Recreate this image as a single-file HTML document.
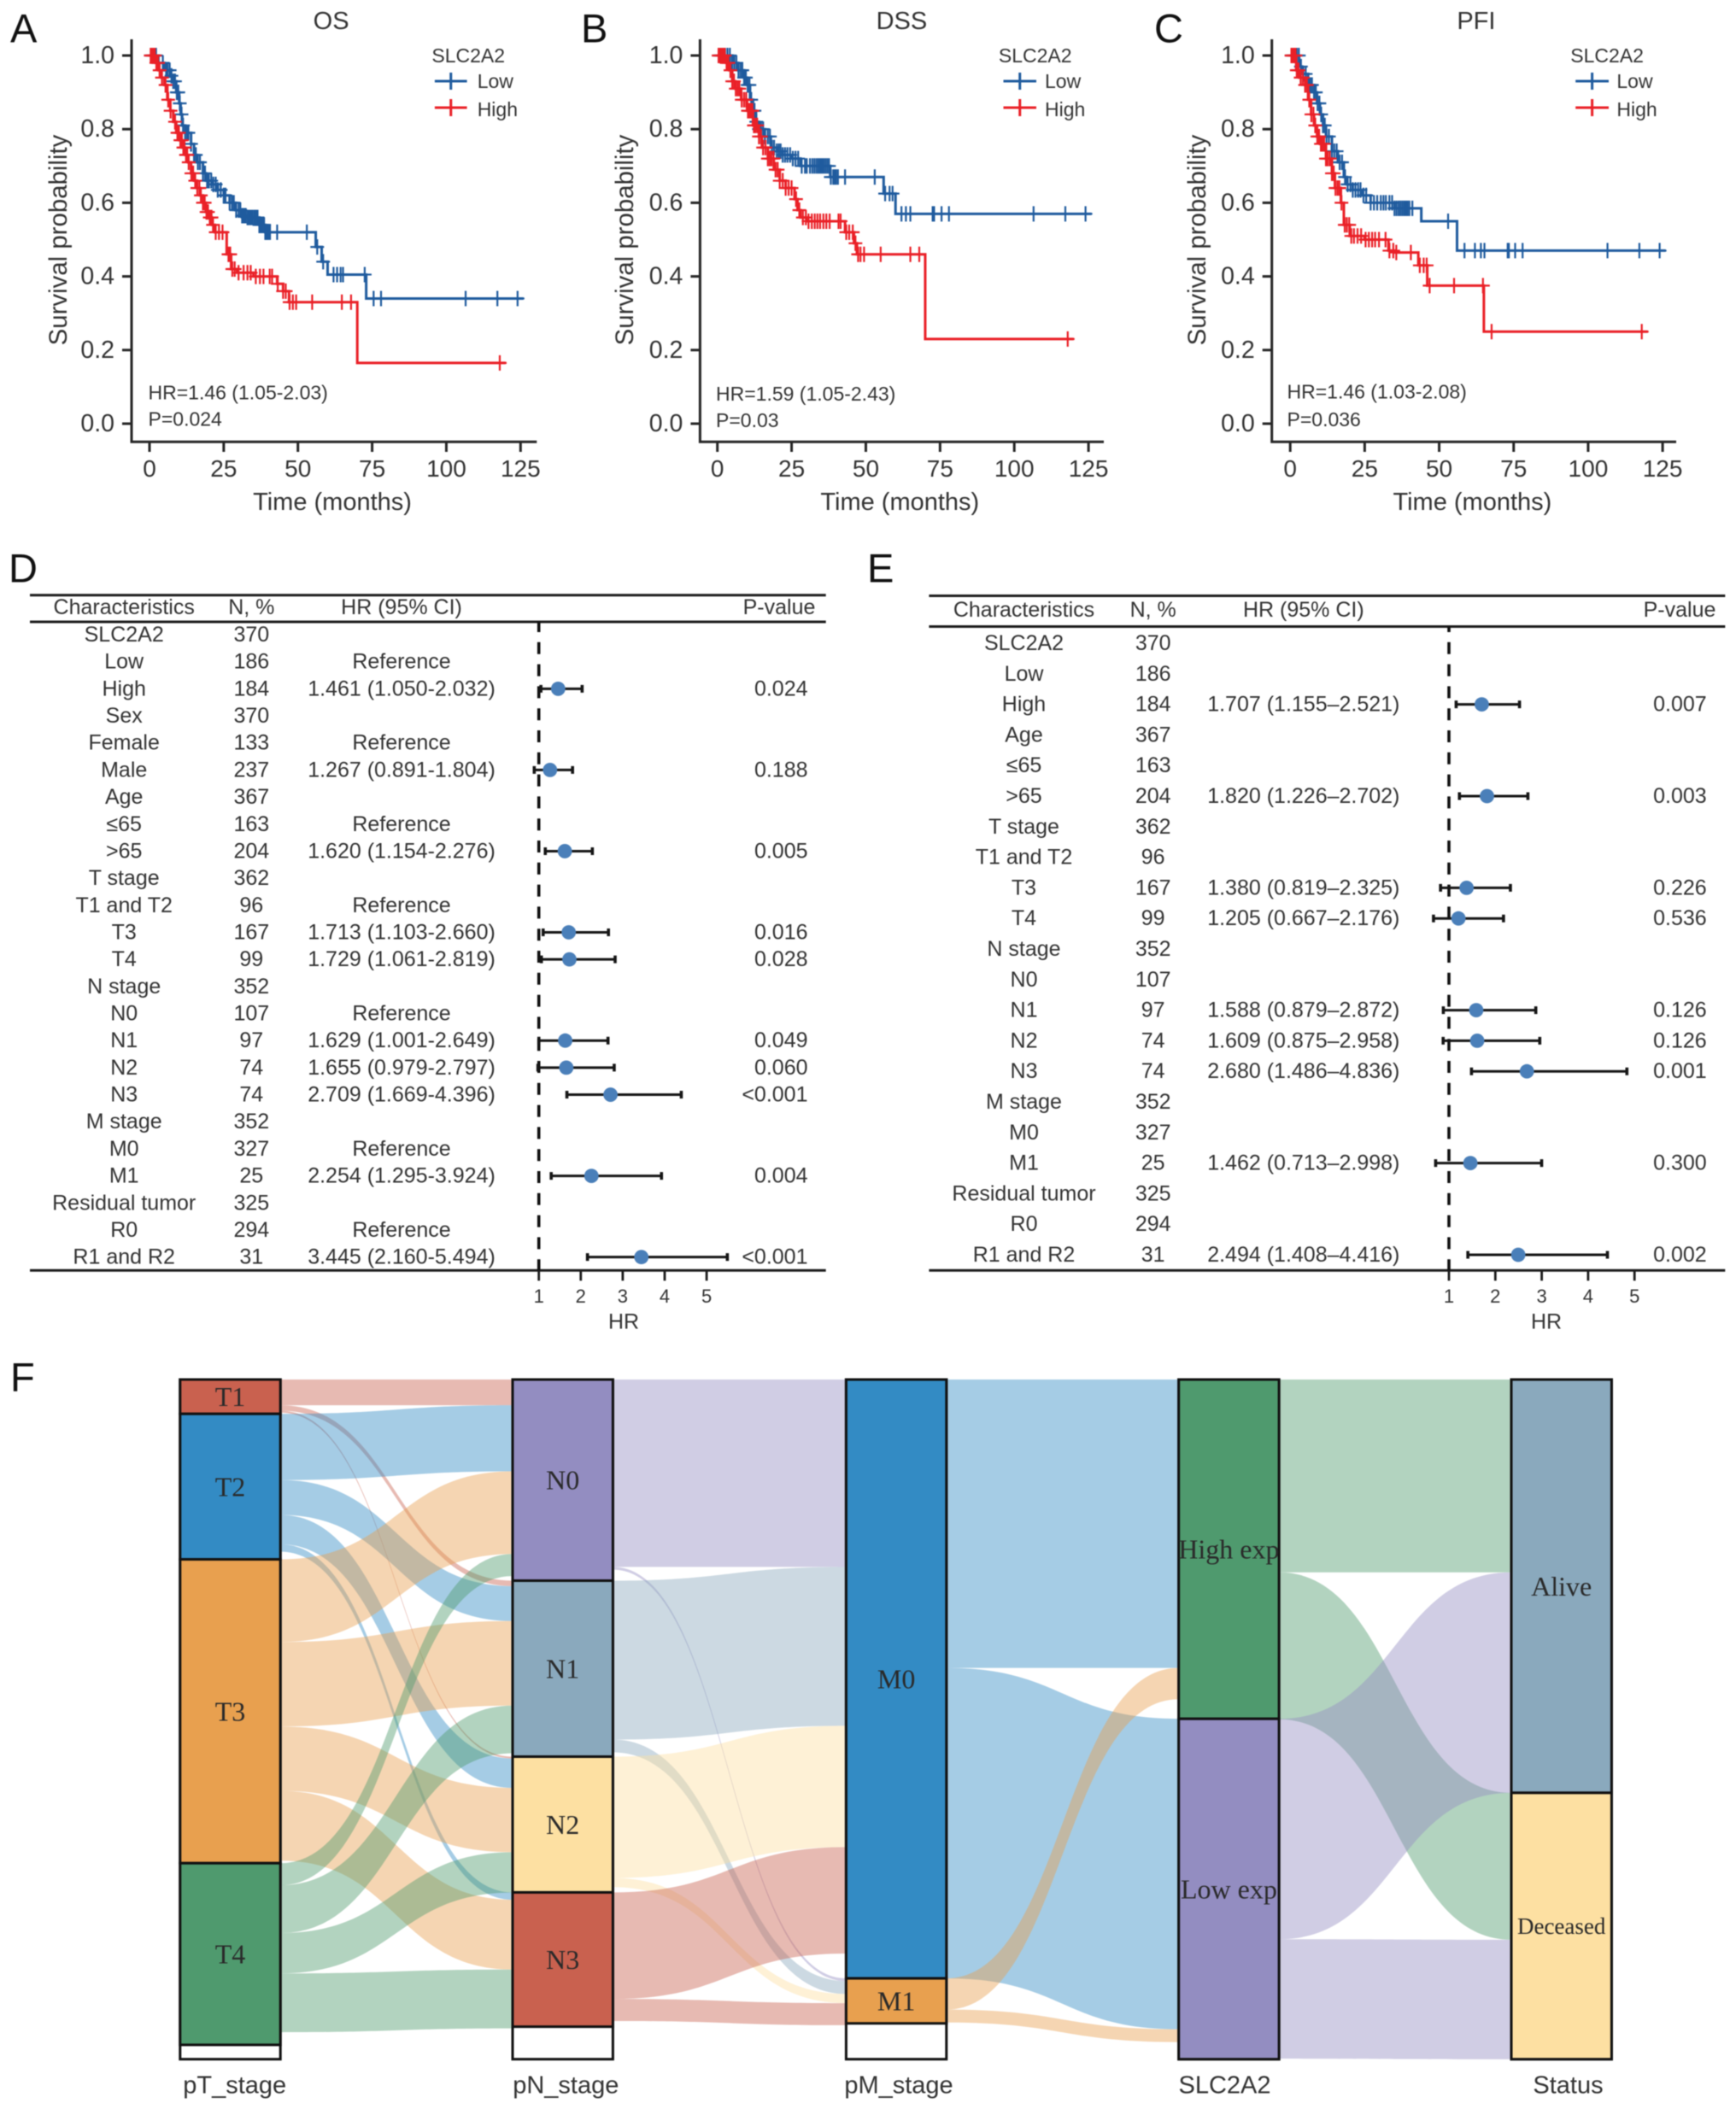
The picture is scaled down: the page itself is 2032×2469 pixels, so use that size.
<!DOCTYPE html>
<html lang="en">
<head>
<meta charset="utf-8">
<title>SLC2A2 survival, Cox regression and Sankey figure</title>
<style>
html,body{margin:0;padding:0;background:#fff;}
svg{display:block;filter:blur(0.55px);}
text{font-family:"Liberation Sans",sans-serif;fill:#333;dominant-baseline:central;}
.serif{font-family:"Liberation Serif",serif;fill:#2a2a2a;}
.letter{font-size:47px;fill:#111;}
.axis-title{font-size:29px;text-anchor:middle;}
.legend{font-size:23px;}
</style>
</head>
<body>
<svg id="fig" xmlns="http://www.w3.org/2000/svg" width="2032" height="2469" viewBox="0 0 2032 2469">
  <rect x="0" y="0" width="2032" height="2469" fill="#fff"/>

  <text class="letter" x="12" y="33">A</text>
  <text class="letter" x="680" y="33">B</text>
  <text class="letter" x="1351" y="33">C</text>
  <text class="letter" x="10" y="665">D</text>
  <text class="letter" x="1015" y="665">E</text>
  <text class="letter" x="12" y="1612">F</text>

  <g id="km-a">
    <text class="axis-title" x="387.6" y="25">OS</text>
    <text class="axis-title" style="font-size:29.4px" transform="translate(68.4,281) rotate(-90)">Survival probability</text>
    <text class="axis-title" x="389" y="588">Time (months)</text>
    <text class="legend" x="505.4" y="65">SLC2A2</text>
    <text class="legend" x="558.7" y="95">Low</text>
    <text class="legend" x="558.7" y="128">High</text>
    <text class="legend" x="173.5" y="459.5">HR=1.46 (1.05-2.03)</text>
    <text class="legend" x="173.5" y="490.7">P=0.024</text>
  </g>
  <g id="km-b">
    <text class="axis-title" x="1055.4" y="25">DSS</text>
    <text class="axis-title" style="font-size:29.4px" transform="translate(731.5,281) rotate(-90)">Survival probability</text>
    <text class="axis-title" x="1053.3" y="588">Time (months)</text>
    <text class="legend" x="1168.9" y="65">SLC2A2</text>
    <text class="legend" x="1223" y="95">Low</text>
    <text class="legend" x="1223" y="128">High</text>
    <text class="legend" x="838" y="461">HR=1.59 (1.05-2.43)</text>
    <text class="legend" x="838" y="492">P=0.03</text>
  </g>
  <g id="km-c">
    <text class="axis-title" x="1727.9" y="25">PFI</text>
    <text class="axis-title" style="font-size:29.4px" transform="translate(1401.5,281) rotate(-90)">Survival probability</text>
    <text class="axis-title" x="1723.4" y="588">Time (months)</text>
    <text class="legend" x="1838.3" y="65">SLC2A2</text>
    <text class="legend" x="1892.4" y="95">Low</text>
    <text class="legend" x="1892.4" y="128">High</text>
    <text class="legend" x="1506.5" y="458.5">HR=1.46 (1.03-2.08)</text>
    <text class="legend" x="1506.5" y="491">P=0.036</text>
  </g>

  <g id="forest-d"></g>
  <g id="forest-e"></g>

  <g id="sankey"></g>
</svg>

<script>
/* ---------- Kaplan-Meier data ---------- */
const survivalTicks = [0, 0.2, 0.4, 0.6, 0.8, 1.0];
const survivalTickLabels = ['0.0', '0.2', '0.4', '0.6', '0.8', '1.0'];
const timeTicks = [0, 25, 50, 75, 100, 125];

const osLowTimes = [0,3,5,7,8,9,10,10.5,11,12,14,15,16,18,19,21,23,25,27,29,31,33,37,39,56,58,60,73,126];
const osLowSurv  = [1,.98,.96,.945,.93,.90,.87,.84,.81,.79,.76,.73,.71,.68,.66,.65,.635,.62,.60,.58,.565,.56,.54,.52,.48,.44,.405,.34,.34];
const osLowCensor = [.5,1,1.7,2.2,3,4.5,5.6,6.1,6.8,7.4,8,8.6,9.2,9.7,10.2,10.8,11.3,12,12.6,13.1,14,15,15.6,16.3,17,18,18.7,19.4,20,20.8,21.5,22.3,23,24,25,25.6,27,27.8,28.4,29.2,30,30.6,31.2,31.8,32.4,33,33.5,34.1,34.7,35.3,35.8,36.4,37,37.5,38,38.6,39,39.5,40,40.6,43,53,56.5,58.5,62,63.2,64.4,65.2,72.5,75.5,78,106.5,117.2,124];
const osHighTimes = [0,2,3,4,5,6,7,8,9,10,11,12,13,14,15,16,17,18,19,20,21,22,26,27.5,29.5,35,43,45,47,70,120];
const osHighSurv  = [1,.98,.96,.94,.92,.88,.85,.82,.79,.77,.75,.73,.71,.68,.66,.64,.62,.60,.575,.56,.54,.52,.46,.42,.41,.40,.38,.36,.33,.165,.165];
const osHighCensor = [.4,.9,1.3,1.8,2.3,2.9,3.4,4.2,5.4,6.3,7.1,8.6,9.4,9.9,10.4,10.9,11.4,11.8,12.3,12.7,13.2,14.1,14.7,15.4,16.1,16.8,17.3,18,18.6,19.2,19.7,20.3,20.9,21.4,22.3,23.4,24.6,26.6,27.2,27.9,28.7,30,31.7,33,34.1,35.8,37.2,38.4,40.5,41.3,43.2,45,45.9,47.2,48.3,49.4,54.8,64.8,67.9,118];

const dssLowTimes = [0,5,7,9,10,11,12,13,14,16,18,20,22,25,28,38,56,60,126];
const dssLowSurv  = [1,.98,.96,.94,.92,.88,.85,.82,.80,.78,.75,.74,.73,.72,.70,.67,.625,.57,.57];
const dssLowCensor = [.6,1.2,1.9,2.6,3.4,4.2,5,5.7,6.4,7.1,7.8,8.4,9,9.6,10.2,10.8,11.4,12,12.5,13.1,14,14.7,15.4,16,17,17.7,18.4,19.1,20,20.7,21.3,22,22.8,23.6,24.5,25.4,26.3,27.2,28.4,29.5,30.1,31.2,32,32.7,33.4,34,34.6,35.2,35.8,36.4,37,37.6,38.2,39,39.5,40,40.6,43,53,56.5,58,59,62,63.5,65,72.5,73,75.5,78,106.5,117.2,124];
const dssHighTimes = [0,3,4,5,6,8,10,12,14,15,17,19,21,23,26,27,28,30,43,46,47,70,120];
const dssHighSurv  = [1,.98,.96,.93,.91,.88,.85,.81,.78,.75,.72,.69,.66,.64,.61,.58,.56,.55,.52,.49,.46,.23,.23];
const dssHighCensor = [.4,1,1.5,2,2.5,3.1,3.7,4.4,5,5.6,6.2,6.8,7.4,8.2,9,9.7,10.3,10.8,11.3,11.8,12.3,12.8,13.4,14,14.7,15.4,16.2,17,17.6,18.2,18.9,19.6,20.3,21,22,23,24,25,26.5,27.6,28.8,29.8,30.7,31.8,32.8,33.7,34.6,35.7,36.7,37.8,40.8,41.5,43.4,44.4,45.6,46.5,47.4,48.2,49.4,55,65,68,118];

const pfiLowTimes = [0,3,4,6,8,9,10,11,12,14,16,18,19,21,24,27,35,44,56,126];
const pfiLowSurv  = [1,.97,.95,.92,.90,.87,.84,.81,.78,.74,.71,.67,.65,.635,.62,.60,.585,.55,.47,.47];
const pfiLowCensor = [.5,1,1.6,2.2,2.9,3.6,4.4,5.2,6,6.7,7.3,8,8.6,9.2,9.8,10.4,11,11.6,12.2,13,14,14.8,15.6,16.6,17.4,18.4,19.3,20.2,21,21.9,22.8,23.6,24.6,25.5,27,28.1,29.2,30.4,31.3,32.1,33.3,34.2,35,35.7,36.4,37,37.6,38.2,38.8,39.4,40,41,53,58.5,62,64,65.2,73,73.4,75.5,78,106.5,117.2,124];
const pfiHighTimes = [0,2,3,5,6,7,8,9,10,12,14,15,17,18,20,25,33,35,43,46,65,120];
const pfiHighSurv  = [1,.96,.94,.92,.88,.84,.81,.78,.76,.72,.68,.64,.60,.54,.51,.50,.47,.465,.43,.375,.25,.25];
const pfiHighCensor = [.4,.8,1.3,1.8,2.2,2.8,3.5,4.2,5,5.6,6.4,7.1,7.8,8.4,9.1,9.7,10.3,10.8,11.4,12,12.6,13.3,14,14.6,15.2,15.9,16.5,17.2,18.3,19,19.8,20.5,21.4,22.6,23.8,25.3,26.4,27.5,28.5,29.8,32,33.3,34.6,35.6,40.5,43.5,44.8,45.8,46.8,55,64.7,67.6,118];

/* ---------- Forest plot data ---------- */
const dLabels = ['SLC2A2','Low','High','Sex','Female','Male','Age','≤65','>65','T stage','T1 and T2','T3','T4','N stage','N0','N1','N2','N3','M stage','M0','M1','Residual tumor','R0','R1 and R2'];
const dCounts = ['370','186','184','370','133','237','367','163','204','362','96','167','99','352','107','97','74','74','352','327','25','325','294','31'];
const dHrText = ['','Reference','1.461 (1.050-2.032)','','Reference','1.267 (0.891-1.804)','','Reference','1.620 (1.154-2.276)','','Reference','1.713 (1.103-2.660)','1.729 (1.061-2.819)','','Reference','1.629 (1.001-2.649)','1.655 (0.979-2.797)','2.709 (1.669-4.396)','','Reference','2.254 (1.295-3.924)','','Reference','3.445 (2.160-5.494)'];
const dHr = [null,null,1.461,null,null,1.267,null,null,1.620,null,null,1.713,1.729,null,null,1.629,1.655,2.709,null,null,2.254,null,null,3.445];
const dLow = [null,null,1.050,null,null,0.891,null,null,1.154,null,null,1.103,1.061,null,null,1.001,0.979,1.669,null,null,1.295,null,null,2.160];
const dHigh = [null,null,2.032,null,null,1.804,null,null,2.276,null,null,2.660,2.819,null,null,2.649,2.797,4.396,null,null,3.924,null,null,5.494];
const dPValues = ['','','0.024','','','0.188','','','0.005','','','0.016','0.028','','','0.049','0.060','<0.001','','','0.004','','','<0.001'];

const eLabels = ['SLC2A2','Low','High','Age','≤65','>65','T stage','T1 and T2','T3','T4','N stage','N0','N1','N2','N3','M stage','M0','M1','Residual tumor','R0','R1 and R2'];
const eCounts = ['370','186','184','367','163','204','362','96','167','99','352','107','97','74','74','352','327','25','325','294','31'];
const eHrText = ['','','1.707 (1.155–2.521)','','','1.820 (1.226–2.702)','','','1.380 (0.819–2.325)','1.205 (0.667–2.176)','','','1.588 (0.879–2.872)','1.609 (0.875–2.958)','2.680 (1.486–4.836)','','','1.462 (0.713–2.998)','','','2.494 (1.408–4.416)'];
const eHr = [null,null,1.707,null,null,1.820,null,null,1.380,1.205,null,null,1.588,1.609,2.680,null,null,1.462,null,null,2.494];
const eLow = [null,null,1.155,null,null,1.226,null,null,0.819,0.667,null,null,0.879,0.875,1.486,null,null,0.713,null,null,1.408];
const eHigh = [null,null,2.521,null,null,2.702,null,null,2.325,2.176,null,null,2.872,2.958,4.836,null,null,2.998,null,null,4.416];
const ePValues = ['','','0.007','','','0.003','','','0.226','0.536','','','0.126','0.126','0.001','','','0.300','','','0.002'];
const hrTicks = [1, 2, 3, 4, 5];

/* ---------- Sankey data (case counts) ---------- */
const sankeyTotal = 370;
const tLabels = ['T1','T2','T3','T4'];
const tCounts = [18.7,79.2,165.4,98.9];
const nLabels = ['N0','N1','N2','N3'];
const nCounts = [109.5,95.8,73.9,73.1];
const mLabels = ['M0','M1'];
const mCounts = [326,24.5];
const slcLabels = ['High exp','Low exp'];
const slcCounts = [184.7,185.3];
const statusLabels = ['Alive','Deceased'];
const statusCounts = [225,145];
const tToN = [[14,3,1,0],[36,19,16,4],[45,46,35,38],[12,26,22,32]];
const nToM = [[102,1.5],[86.5,7],[66,5],[58,12]];
const mToSlc = [[157,169],[17,7]];
const slcToStatus = [[105,80],[120,65]];
const stageTitles = ['pT_stage','pN_stage','pM_stage','SLC2A2','Status'];

/* ---------- helpers ---------- */
const NS = 'http://www.w3.org/2000/svg';
function mk(tag, parent, props) {
  const el = document.createElementNS(NS, tag);
  for (const k in props) el.setAttribute(k, props[k]);
  parent.appendChild(el);
  return el;
}

/* ---------- Kaplan-Meier ---------- */
const BLUE = '#1f5b9e', RED = '#ea2027', AXIS = '#262626';
function stepValue(times, surv, t) {
  let v = surv[0];
  for (let i = 0; i < times.length; i++) { if (times[i] <= t) v = surv[i]; }
  return v;
}
function drawCurve(g, times, surv, censor, color, xS, yS, name) {
  let d = 'M' + xS(times[0]) + ' ' + yS(surv[0]);
  for (let i = 1; i < times.length; i++) {
    d += 'H' + xS(times[i]) + 'V' + yS(surv[i]);
  }
  const p = mk('path', g, {d: d, fill: 'none', stroke: color, 'stroke-width': 3});
  
  
  censor.forEach(function (t) {
    const cx = xS(t), cy = yS(stepValue(times, surv, t));
    const m = mk('path', g, {d: 'M' + (cx - 8) + ' ' + cy + 'H' + (cx + 8) + 'M' + cx + ' ' + (cy - 9) + 'V' + (cy + 9), stroke: color, 'stroke-width': 2.2, fill: 'none'});
    
    
  });
}
function drawKM(id, geo, low, high) {
  const g = document.getElementById(id);
  const xS = function (t) { return geo.x0 + t * (geo.x125 - geo.x0) / 125; };
  const yS = function (s) { return 496 - s * 431; };
  const ax = mk('path', g, {d: 'M' + geo.axisX + ' 46V517.3H' + geo.right, fill: 'none', stroke: AXIS, 'stroke-width': 3});
  
  
  survivalTicks.forEach(function (v, i) {
    const t = mk('line', g, {x1: geo.axisX - 11, x2: geo.axisX, y1: yS(v), y2: yS(v), stroke: AXIS, 'stroke-width': 3});
    
    
    const l = mk('text', g, {x: geo.axisX - 20, y: yS(v), 'text-anchor': 'end', 'font-size': 28.5});
    
    
    l.textContent = survivalTickLabels[i];
  });
  timeTicks.forEach(function (v) {
    const t = mk('line', g, {x1: xS(v), x2: xS(v), y1: 517.3, y2: 529, stroke: AXIS, 'stroke-width': 3});
    
    
    const l = mk('text', g, {x: xS(v), y: 548.5, 'text-anchor': 'middle', 'font-size': 28});
    
    
    l.textContent = String(v);
  });
  drawCurve(g, low.t, low.s, low.c, BLUE, xS, yS, 'low-expression');
  drawCurve(g, high.t, high.s, high.c, RED, xS, yS, 'high-expression');
  [[95, BLUE], [126, RED]].forEach(function (k) {
    const key = mk('path', g, {d: 'M' + geo.keyL + ' ' + k[0] + 'H' + geo.keyR + 'M' + (geo.keyL + geo.keyR) / 2 + ' ' + (k[0] - 10) + 'V' + (k[0] + 10), stroke: k[1], 'stroke-width': 3, fill: 'none'});
    
    
  });
}
drawKM('km-a', {axisX: 154, right: 628.3, x0: 175, x125: 609.3, keyL: 508.9, keyR: 546.6},
  {t: osLowTimes, s: osLowSurv, c: osLowCensor}, {t: osHighTimes, s: osHighSurv, c: osHighCensor});
drawKM('km-b', {axisX: 819.4, right: 1292, x0: 839.7, x125: 1274.1, keyL: 1174.5, keyR: 1213},
  {t: dssLowTimes, s: dssLowSurv, c: dssLowCensor}, {t: dssHighTimes, s: dssHighSurv, c: dssHighCensor});
drawKM('km-c', {axisX: 1488.7, right: 1962, x0: 1510.2, x125: 1946.1, keyL: 1844.2, keyR: 1883},
  {t: pfiLowTimes, s: pfiLowSurv, c: pfiLowCensor}, {t: pfiHighTimes, s: pfiHighSurv, c: pfiHighCensor});

/* ---------- Forest plots ---------- */
function addCell(g, x, y, txt, name, anchor) {
  const t = mk('text', g, {x: x, y: y, 'text-anchor': anchor || 'middle', 'font-size': 25});
  
  
  t.textContent = txt;
}
function drawForest(id, geo, rows) {
  const g = document.getElementById(id);
  const xS = function (v) { return geo.x1 + (v - 1) * geo.unit; };
  [geo.lineTop, geo.lineHead, geo.lineBottom].forEach(function (y) {
    const r = mk('line', g, {x1: geo.left, x2: geo.right, y1: y, y2: y, stroke: '#1c1c1c', 'stroke-width': 3});
    
    
  });
  addCell(g, geo.cChar, geo.headY, 'Characteristics', 'header-characteristics');
  addCell(g, geo.cN, geo.headY, 'N, %', 'header-n');
  addCell(g, geo.cHr, geo.headY, 'HR (95% CI)', 'header-hr');
  addCell(g, geo.cP, geo.headY, 'P-value', 'header-p-value');
  const dash = mk('line', g, {x1: geo.x1, x2: geo.x1, y1: geo.lineHead, y2: geo.lineBottom, stroke: '#111', 'stroke-width': 3.6, 'stroke-dasharray': '14 11.8', 'stroke-dashoffset': geo.lineHead - 726});
  
  
  rows.labels.forEach(function (lab, i) {
    const y = geo.rowY + i * geo.rowStep;
    addCell(g, geo.cChar, y, lab, 'row-label');
    addCell(g, geo.cN, y, rows.counts[i], 'row-count');
    if (rows.hrText[i]) addCell(g, geo.cHr, y, rows.hrText[i], 'row-hr-text');
    if (rows.p[i]) addCell(g, geo.pRight, y, rows.p[i], 'row-p-value', 'end');
    if (rows.hr[i] !== null) {
      const ci = mk('path', g, {d: 'M' + xS(rows.lo[i]) + ' ' + y + 'H' + xS(rows.hi[i]), stroke: '#151515', 'stroke-width': 3, fill: 'none'});
      
      
      const caps = mk('path', g, {d: 'M' + xS(rows.lo[i]) + ' ' + (y - 4.5) + 'V' + (y + 4.5) + 'M' + xS(rows.hi[i]) + ' ' + (y - 4.5) + 'V' + (y + 4.5), stroke: '#151515', 'stroke-width': 3.6, fill: 'none'});
      
      
      const dot = mk('circle', g, {cx: xS(rows.hr[i]), cy: y, r: 8.4, fill: '#4a7fb9'});
      
      
    }
  });
  hrTicks.forEach(function (v) {
    const t = mk('line', g, {x1: xS(v), x2: xS(v), y1: geo.lineBottom, y2: geo.lineBottom + 12, stroke: '#1c1c1c', 'stroke-width': 2.8});
    
    
    const l = mk('text', g, {x: xS(v), y: geo.lineBottom + 30, 'text-anchor': 'middle', 'font-size': 22});
    
    
    l.textContent = String(v);
  });
  addCell(g, geo.cAxis, geo.lineBottom + 60, 'HR', 'hr-axis-title');
}
drawForest('forest-d',
  {left: 35, right: 966.7, lineTop: 696.7, lineHead: 728, lineBottom: 1487.3, headY: 711, rowY: 743, rowStep: 31.68,
   cChar: 145.2, cN: 294.3, cHr: 470, cP: 912, pRight: 945.5, x1: 630.7, unit: 49.1, cAxis: 730},
  {labels: dLabels, counts: dCounts, hrText: dHrText, hr: dHr, lo: dLow, hi: dHigh, p: dPValues});
drawForest('forest-e',
  {left: 1087.4, right: 2019.3, lineTop: 697.5, lineHead: 733.5, lineBottom: 1487.3, headY: 714, rowY: 753, rowStep: 35.8,
   cChar: 1198.5, cN: 1349.7, cHr: 1525.8, cP: 1966, pRight: 1997.7, x1: 1696, unit: 54.3, cAxis: 1810},
  {labels: eLabels, counts: eCounts, hrText: eHrText, hr: eHr, lo: eLow, hi: eHigh, p: ePValues});

/* ---------- Sankey ---------- */
(function () {
  const g = document.getElementById('sankey');
  const RD = '#c9614f', BL = '#338bc4', OR = '#e8a04f', GR = '#4f9a6e', PU = '#938dc1', BG = '#8aa9bd', YE = '#fde0a2';
  const topY = 1615, colWidth = 117.4;
  const colX = [210.8, 600, 990.4, 1379.7, 1769];
  const titleX = [274.7, 662.3, 1052, 1433.5, 1835.5];
  const scaleCases = function (c) { return c * 795.7 / sankeyTotal; };
  const columns = [
    {labels: tLabels, counts: tCounts, colors: [RD, BL, OR, GR]},
    {labels: nLabels, counts: nCounts, colors: [PU, BG, YE, RD]},
    {labels: mLabels, counts: mCounts, colors: [BL, OR]},
    {labels: slcLabels, counts: slcCounts, colors: [GR, PU]},
    {labels: statusLabels, counts: statusCounts, colors: [BG, YE]}
  ];
  const flowSets = [tToN, nToM, mToSlc, slcToStatus];

  columns.forEach(function (col) {
    let y = 0;
    col.tops = col.counts.map(function (c) { const t = y; y += c; return t; });
  });

  flowSets.forEach(function (matrix, ci) {
    const src = columns[ci], dst = columns[ci + 1];
    const x0 = colX[ci] + colWidth, x1 = colX[ci + 1];
    const xm = (x0 + x1) / 2;
    const inUsed = dst.counts.map(function () { return 0; });
    matrix.forEach(function (row, si) {
      let outUsed = 0;
      row.forEach(function (v, ti) {
        if (v > 0) {
          const a0 = topY + scaleCases(src.tops[si] + outUsed);
          const a1 = a0 + scaleCases(v);
          const b0 = topY + scaleCases(dst.tops[ti] + inUsed[ti]);
          const b1 = b0 + scaleCases(v);
          const d = 'M' + x0 + ' ' + a0 + 'C' + xm + ' ' + a0 + ' ' + xm + ' ' + b0 + ' ' + x1 + ' ' + b0 +
                    'L' + x1 + ' ' + b1 + 'C' + xm + ' ' + b1 + ' ' + xm + ' ' + a1 + ' ' + x0 + ' ' + a1 + 'Z';
          const f = mk('path', g, {d: d, fill: src.colors[si], 'fill-opacity': 0.44});
          
          
        }
        outUsed += v;
        inUsed[ti] += v;
      });
    });
  });

  columns.forEach(function (col, ci) {
    const frame = mk('rect', g, {x: colX[ci], y: topY, width: colWidth, height: scaleCases(sankeyTotal), fill: '#fff', stroke: '#111', 'stroke-width': 3});
    
    
    col.labels.forEach(function (lab, i) {
      const y = topY + scaleCases(col.tops[i]), h = scaleCases(col.counts[i]);
      const r = mk('rect', g, {x: colX[ci], y: y, width: colWidth, height: h, fill: col.colors[i], stroke: '#111', 'stroke-width': 3});
      
      
      const t = mk('text', g, {x: colX[ci] + colWidth / 2, y: y + h / 2, 'text-anchor': 'middle', 'font-size': lab === 'Deceased' ? 27 : 32, 'class': 'serif'});
      
      
      t.textContent = lab;
    });
    const title = mk('text', g, {x: titleX[ci], y: 2441.7, 'text-anchor': 'middle', 'font-size': 29});
    
    
    title.textContent = stageTitles[ci];
  });
})();
</script>
</body>
</html>
